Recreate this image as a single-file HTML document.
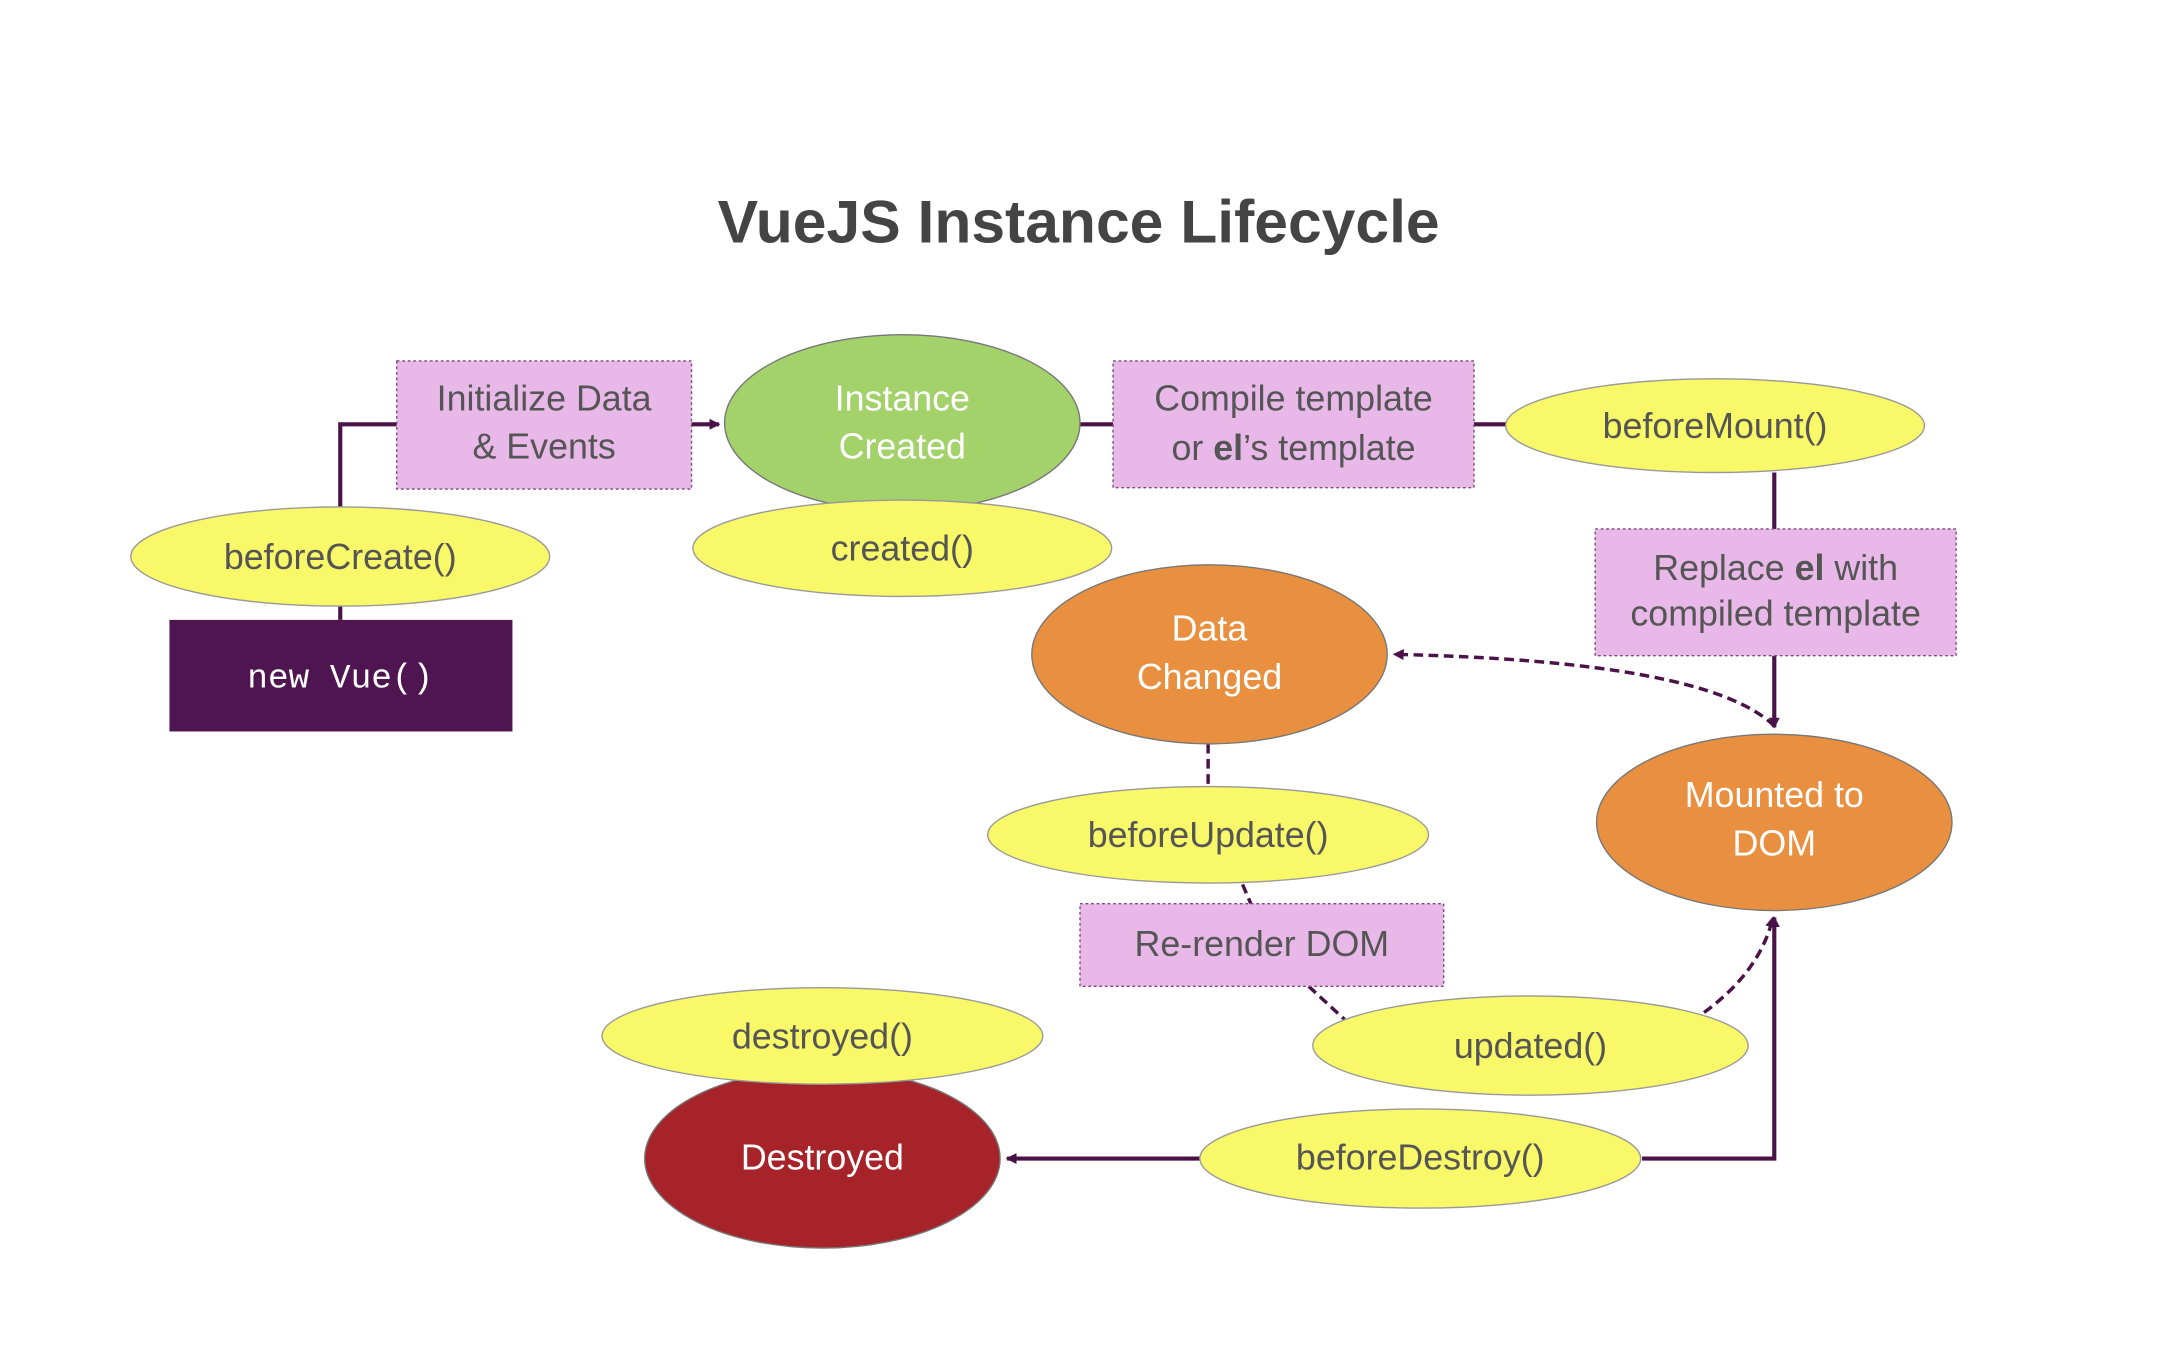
<!DOCTYPE html>
<html><head><meta charset="utf-8"><style>
html,body{margin:0;padding:0;background:#fff;}
svg{display:block;}
text{font-family:"Liberation Sans",sans-serif;}
</style></head><body>
<svg width="2160" height="1350" viewBox="0 0 1568 980" preserveAspectRatio="none" xmlns="http://www.w3.org/2000/svg">
<defs>
<marker id="a" markerWidth="8" markerHeight="8" refX="7" refY="4" orient="auto" markerUnits="userSpaceOnUse"><path d="M0,0 L8,4 L0,8 z" fill="#4a1248"/></marker>
</defs>
<rect width="1568" height="980" fill="#fff"/>
<text x="783" y="176" text-anchor="middle" font-size="44" font-weight="bold" fill="#444">VueJS Instance Lifecycle</text>

<g stroke="#4a1248" stroke-width="3" fill="none">
<path d="M247,450 V308 H288"/>
<path d="M502,308 H522" marker-end="url(#a)"/>
<path d="M784,308 H808"/>
<path d="M1070,308 H1095"/>
<path d="M1288,343 V384"/>
<path d="M1288,476 V528" marker-end="url(#a)"/>
<path d="M1192,841 H1288 V666" marker-end="url(#a)"/>
<path d="M871,841 H731" marker-end="url(#a)"/>
</g>
<g stroke="#4a1248" stroke-width="2.5" fill="none" stroke-dasharray="7,4">
<path d="M877,540 V572"/>
<path d="M902,642 L908,656"/>
<path d="M950,716 L976,740"/>
<path d="M1237,735 Q1278,705 1287,666" marker-end="url(#a)"/>
<path d="M1288,527 Q1240,480 1012,475" marker-end="url(#a)"/>
</g>

<g fill="#e8b9e8" stroke="#7a4a7a" stroke-width="1" stroke-dasharray="2,2">
<rect x="288" y="262" width="214" height="93"/>
<rect x="808" y="262" width="262" height="92"/>
<rect x="1158" y="384" width="262" height="92"/>
<rect x="784" y="656" width="264" height="60"/>
</g>
<rect x="123" y="450" width="249" height="81" fill="#4f1550"/>

<g stroke="#777" stroke-width="1">
<ellipse cx="655" cy="307" rx="129" ry="64" fill="#a3d16a"/>
<ellipse cx="878" cy="475" rx="129" ry="65" fill="#e98f40"/>
<ellipse cx="1288" cy="597" rx="129" ry="64" fill="#e98f40"/>
<ellipse cx="597" cy="841" rx="129" ry="65" fill="#a6232a"/>
</g>
<g fill="#f8f868" stroke="#999" stroke-width="1">
<ellipse cx="1245" cy="309" rx="152" ry="34"/>
<ellipse cx="247" cy="404" rx="152" ry="36"/>
<ellipse cx="655" cy="398" rx="152" ry="35"/>
<ellipse cx="877" cy="606" rx="160" ry="35"/>
<ellipse cx="1111" cy="759" rx="158" ry="36"/>
<ellipse cx="597" cy="752" rx="160" ry="35"/>
<ellipse cx="1031" cy="841" rx="160" ry="36"/>
</g>

<g font-size="26" text-anchor="middle" fill="#555">
<text x="395" y="298">Initialize Data</text>
<text x="395" y="333">&amp; Events</text>
<text x="939" y="298">Compile template</text>
<text x="939" y="334">or <tspan font-weight="bold">el</tspan>’s template</text>
<text x="1289" y="421">Replace <tspan font-weight="bold">el</tspan> with</text>
<text x="1289" y="454">compiled template</text>
<text x="916" y="694">Re-render DOM</text>
<text x="1245" y="318">beforeMount()</text>
<text x="247" y="413">beforeCreate()</text>
<text x="655" y="407">created()</text>
<text x="877" y="615">beforeUpdate()</text>
<text x="1111" y="768">updated()</text>
<text x="597" y="761">destroyed()</text>
<text x="1031" y="849">beforeDestroy()</text>
</g>
<g font-size="26" text-anchor="middle" fill="#fff">
<text x="655" y="298">Instance</text>
<text x="655" y="333">Created</text>
<text x="878" y="465">Data</text>
<text x="878" y="500">Changed</text>
<text x="1288" y="586">Mounted to</text>
<text x="1288" y="621">DOM</text>
<text x="597" y="849">Destroyed</text>
<text x="247" y="499" style="font-family:'Liberation Mono',monospace" font-size="25">new Vue()</text>
</g>
</svg>
</body></html>
